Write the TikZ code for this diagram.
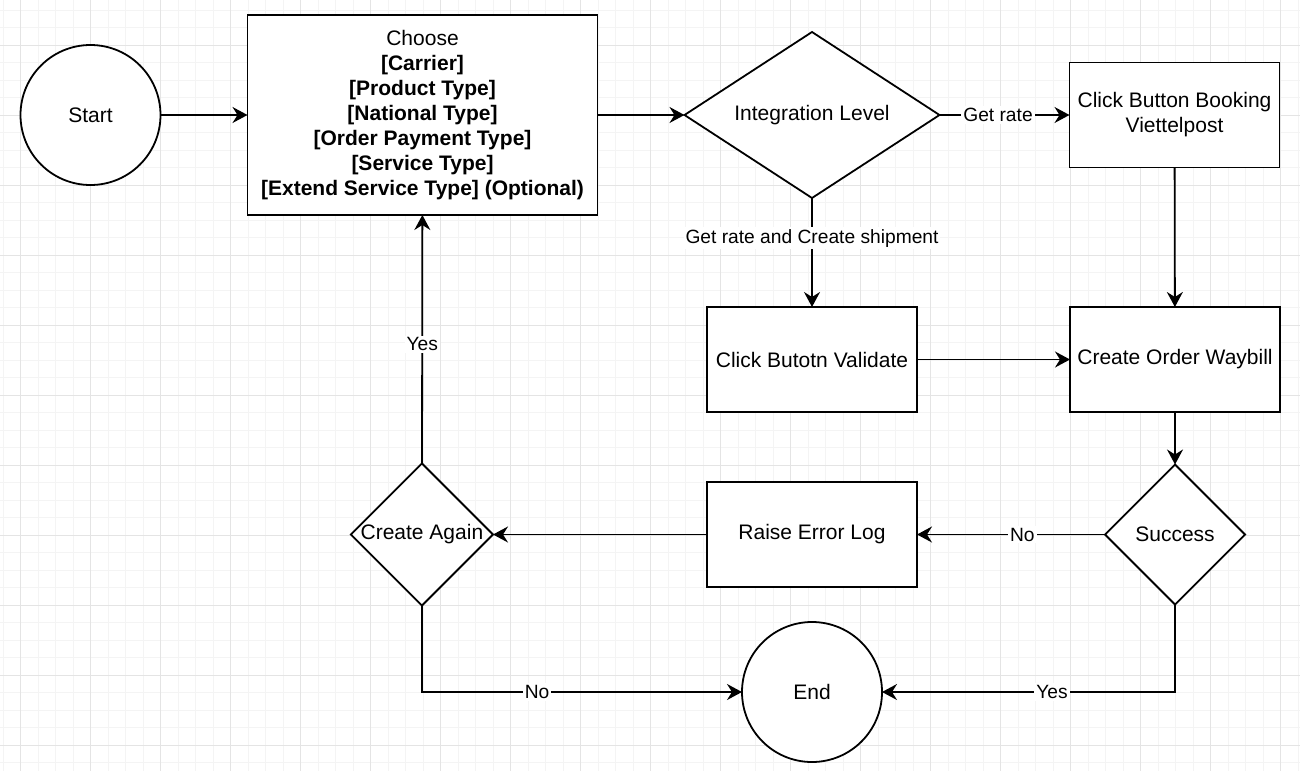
\documentclass[tikz,border=0pt]{standalone}
\usepackage{fontspec}
\setmainfont{Liberation Sans}
\usetikzlibrary{shapes.geometric, arrows.meta, positioning}
\definecolor{gridminor}{RGB}{244,244,244}
\definecolor{gridmajor}{RGB}{228,228,228}
\newcommand{\flowfont}{\fontsize{10.5}{12.5}\selectfont}
\newcommand{\edgefont}{\fontsize{9.6}{11}\selectfont}

\begin{document}
\begin{tikzpicture}[
    x=0.5pt, y=-0.5pt,
    box/.style={rectangle, draw, line width=0.9pt, fill=white, outer sep=0pt,
                minimum width=105pt, minimum height=52.5pt, align=center, font=\flowfont},
    choice/.style={diamond, draw, line width=0.9pt, fill=white, inner sep=0pt, outer sep=0pt,
                   minimum width=70pt, minimum height=70pt, align=center, font=\flowfont},
    term/.style={circle, draw, line width=0.9pt, fill=white, outer sep=0pt,
                 minimum size=70pt, font=\flowfont},
    arrow/.style={-{Stealth[length=7.5pt, width=8pt, inset=2.5pt]}, line width=0.9pt},
    elabel/.style={font=\edgefont, fill=white, inner sep=1pt},
]

% Canvas and grid
\useasboundingbox (0,0) rectangle (1300,771);
\fill[white] (0,0) rectangle (1300,771);
\foreach \i in {0,...,74}
    \draw[gridminor, line width=0.5pt] ({3.2+17.5*\i},0) -- ({3.2+17.5*\i},771);
\foreach \i in {0,...,43}
    \draw[gridminor, line width=0.5pt] (0,{10+17.5*\i}) -- (1300,{10+17.5*\i});
\foreach \i in {0,...,18}
    \draw[gridmajor, line width=0.5pt] ({20.7+70*\i},0) -- ({20.7+70*\i},771);
\foreach \i in {0,...,10}
    \draw[gridmajor, line width=0.5pt] (0,{45+70*\i}) -- (1300,{45+70*\i});

% Top row
\node[term] (start) at (90.5,115) {Start};
\node[box, minimum width=175pt, minimum height=100pt, right=43.5pt of start] (choose)
    {Choose\\\textbf{[Carrier]}\\\textbf{[Product Type]}\\\textbf{[National Type]}\\
     \textbf{[Order Payment Type]}\\\textbf{[Service Type]}\\
     \textbf{[Extend Service Type] (Optional)}};
\node[choice, aspect=1.536, minimum width=127.5pt, minimum height=83pt,
      right=43.5pt of choose] (integ) {Integration Level};
\node[box, right=65pt of integ] (booking) {Click Button Booking\\Viettelpost};

% Middle row
\node[box, below=54.5pt of integ] (validate) {Click Butotn Validate};
\node[box, right=76.5pt of validate] (waybill) {Create Order Waybill};

% Bottom rows
\node[choice, below=26.25pt of waybill] (success) {Success};
\node[box, left=94pt of success] (raise) {Raise Error Log};
\node[choice, left=107pt of raise] (again) {Create Again};
\node[term, below=17.5pt of raise] (end) {End};

% Arrows
\draw[arrow] (start) -- (choose);
\draw[arrow] (choose) -- (integ);
\draw[arrow] (integ) -- node[elabel, pos=0.45]{Get rate} (booking);
\draw[arrow] (integ) -- node[elabel, pos=0.37]{Get rate and Create shipment} (validate);
\draw[arrow] (booking) -- (waybill);
\draw[arrow] (validate) -- (waybill);
\draw[arrow] (waybill) -- (success);
\draw[arrow] (success) -- node[elabel, pos=0.44]{No} (raise);
\draw[arrow] (raise) -- (again);
\draw[arrow] (again) -- node[elabel, pos=0.48]{Yes} (choose);
\draw[arrow] (again) |- node[elabel, pos=0.68]{No} (end);
\draw[arrow] (success) |- node[elabel, pos=0.71]{Yes} (end);

\end{tikzpicture}
\end{document}
